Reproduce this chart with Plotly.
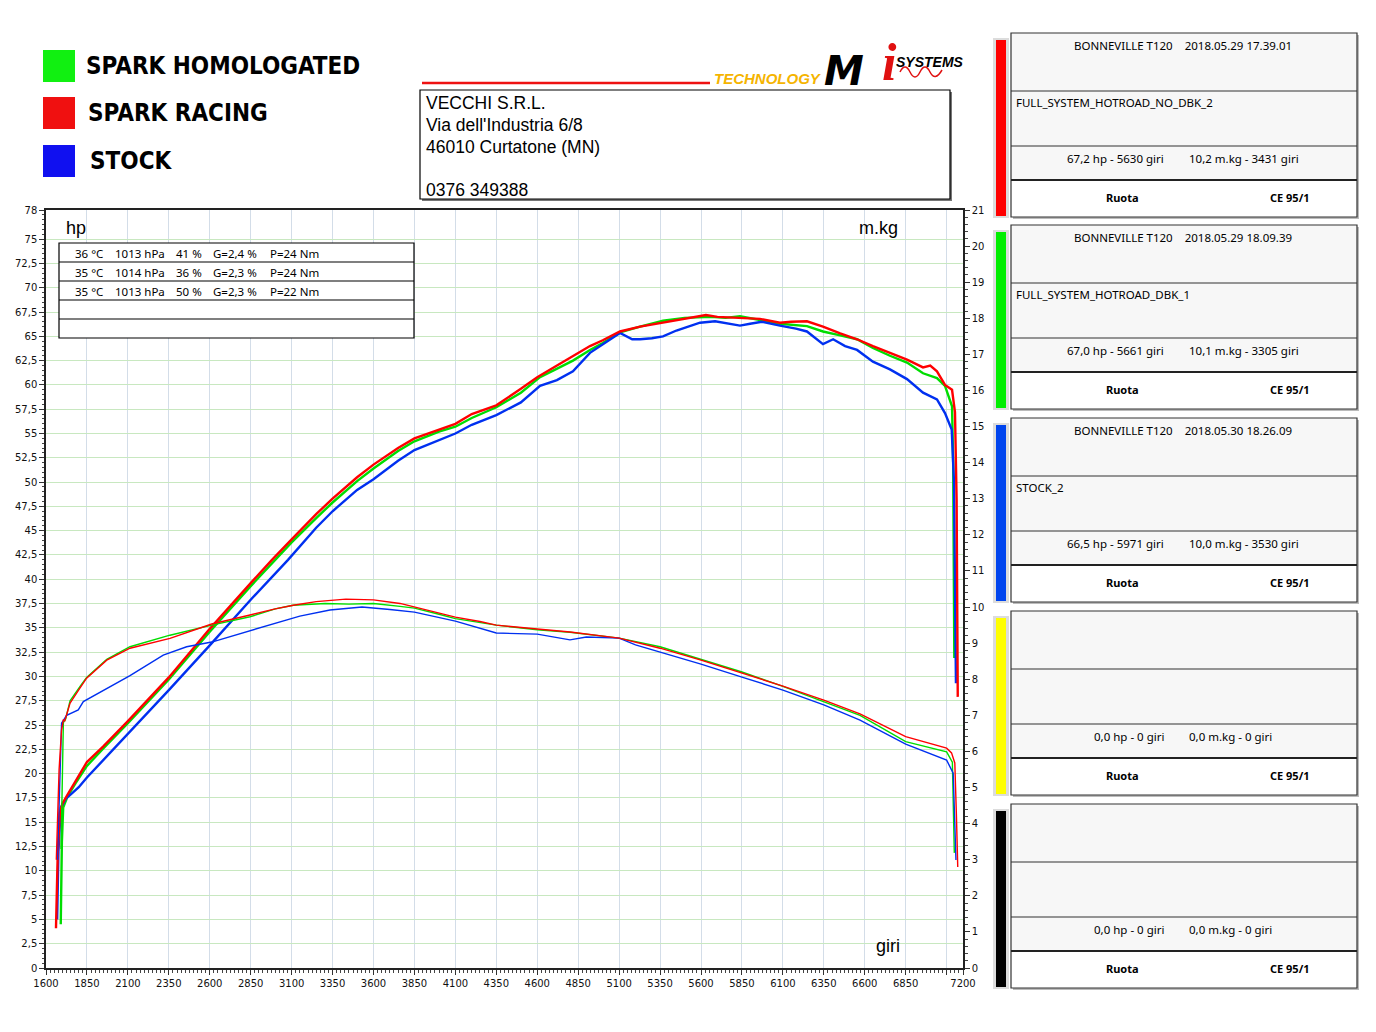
import plotly.graph_objects as go

# ---------------- DATA ----------------
# SPARK RACING (red)
red_hp_rpm = [1661, 1672, 1685, 1700, 1730, 1780, 1850, 1950, 2100, 2350, 2600, 2850, 2980, 3100, 3250,
              3350, 3500, 3600, 3750, 3850, 4000, 4100, 4200, 4350, 4500, 4600, 4700, 4818, 4922, 5000,
              5105, 5228, 5368, 5500, 5594, 5630, 5700, 5838, 5960, 6082, 6150, 6247, 6345, 6450, 6553,
              6650, 6754, 6858, 6956, 7000, 7041, 7090, 7133, 7151, 7161, 7165, 7168]
red_hp = [4.1, 12.0, 16.0, 16.9, 17.8, 19.2, 21.2, 22.8, 25.4, 29.9, 34.9, 39.6, 42.0, 44.1, 46.7,
          48.3, 50.5, 51.8, 53.5, 54.5, 55.4, 56.0, 57.0, 57.9, 59.6, 60.8, 61.8, 63.0, 64.0, 64.6,
          65.5, 66.0, 66.4, 66.8, 67.1, 67.2, 67.0, 66.9, 66.8, 66.4, 66.5, 66.55, 66.0, 65.3, 64.7,
          64.0, 63.3, 62.6, 61.8, 62.0, 61.4, 60.0, 59.5, 57.2, 48.2, 38.0, 27.9]
red_tq_rpm = [1663, 1680, 1695, 1706, 1715, 1747, 1808, 1848, 1971, 2113, 2357, 2612, 2846, 3000, 3110,
              3250, 3431, 3600, 3762, 3850, 4000, 4100, 4250, 4350, 4600, 4800, 5100, 5350, 5600, 5850,
              6100, 6350, 6571, 6850, 7100, 7130, 7150, 7160, 7168]
red_tq = [3.0, 5.5, 6.6, 6.87, 6.85, 7.34, 7.76, 8.03, 8.53, 8.86, 9.13, 9.53, 9.78, 9.95, 10.05,
          10.15, 10.22, 10.2, 10.1, 10.0, 9.85, 9.72, 9.6, 9.5, 9.39, 9.31, 9.14, 8.86, 8.53, 8.17,
          7.81, 7.42, 7.04, 6.41, 6.09, 5.96, 5.68, 4.2, 2.8]

# SPARK HOMOLOGATED (green)
green_hp_rpm = [1690, 1697, 1705, 1730, 1780, 1850, 1950, 2100, 2350, 2600, 2850, 2998, 3100, 3250, 3350,
                3500, 3600, 3750, 3850, 4000, 4100, 4200, 4350, 4500, 4617, 4700, 4818, 4922, 5000, 5105,
                5228, 5368, 5500, 5661, 5750, 5838, 5960, 6082, 6247, 6345, 6450, 6553, 6650, 6754, 6858,
                6956, 7041, 7090, 7133, 7140, 7147]
green_hp = [4.5, 13.0, 16.5, 17.6, 19.0, 20.8, 22.6, 25.2, 29.7, 34.6, 39.3, 42.0, 43.8, 46.3, 47.9,
            50.1, 51.4, 53.2, 54.2, 55.2, 55.7, 56.6, 57.7, 59.2, 60.8, 61.5, 62.5, 63.6, 64.3, 65.4,
            66.0, 66.6, 66.9, 67.0, 66.9, 67.07, 66.7, 66.3, 66.05, 65.5, 65.1, 64.7, 63.8, 63.0, 62.3,
            61.2, 60.7, 59.9, 57.8, 52.0, 31.9]
green_tq_rpm = [1692, 1700, 1706, 1720, 1747, 1808, 1848, 1971, 2113, 2357, 2612, 2846, 3000, 3110, 3305,
                3450, 3600, 3762, 3850, 4000, 4100, 4350, 4600, 4800, 5100, 5350, 5600, 5850, 6100, 6350,
                6571, 6850, 7100, 7135, 7142, 7147]
green_tq = [3.3, 5.5, 6.8, 6.9, 7.4, 7.8, 8.05, 8.55, 8.9, 9.22, 9.5, 9.73, 9.95, 10.05, 10.1,
            10.08, 10.1, 10.02, 9.97, 9.8, 9.68, 9.5, 9.37, 9.3, 9.14, 8.9, 8.55, 8.2, 7.8, 7.38,
            7.0, 6.27, 5.99, 5.7, 4.5, 3.19]

# STOCK (blue)
blue_hp_rpm = [1668, 1676, 1690, 1720, 1760, 1800, 1850, 1950, 2100, 2350, 2600, 2850, 3078, 3250, 3350,
               3500, 3600, 3750, 3850, 4000, 4100, 4200, 4350, 4500, 4617, 4720, 4818, 4922, 5000, 5105,
               5180, 5228, 5300, 5368, 5450, 5594, 5686, 5760, 5838, 5900, 5971, 6082, 6180, 6247, 6345,
               6407, 6480, 6553, 6650, 6754, 6858, 6956, 7041, 7090, 7131, 7145, 7157]
blue_hp = [5.0, 12.0, 16.5, 17.4, 18.0, 18.6, 19.6, 21.4, 24.0, 28.6, 33.2, 37.9, 42.0, 45.3, 47.0,
           49.2, 50.3, 52.2, 53.3, 54.3, 55.0, 55.9, 56.9, 58.2, 59.9, 60.5, 61.4, 63.3, 64.2, 65.35,
           64.7, 64.7, 64.8, 65.0, 65.6, 66.4, 66.55, 66.3, 66.1, 66.3, 66.5, 66.1, 65.8, 65.5, 64.2,
           64.7, 64.0, 63.6, 62.4, 61.6, 60.6, 59.2, 58.5, 57.1, 55.4, 50.0, 29.3]
blue_tq_rpm = [1670, 1685, 1695, 1726, 1797, 1828, 1971, 2113, 2316, 2459, 2612, 2826, 2968, 3150, 3334,
               3530, 3700, 3850, 4100, 4350, 4600, 4800, 4900, 5100, 5200, 5350, 5600, 5850, 6100, 6350,
               6571, 6850, 7100, 7140, 7150, 7157]
blue_tq = [3.0, 5.5, 6.78, 7.0, 7.15, 7.38, 7.75, 8.1, 8.67, 8.9, 9.03, 9.32, 9.5, 9.75, 9.92,
           10.0, 9.93, 9.86, 9.61, 9.28, 9.25, 9.09, 9.17, 9.14, 8.95, 8.75, 8.42, 8.06, 7.7, 7.29,
           6.87, 6.2, 5.76, 5.4, 4.2, 2.99]

# axis ticks
x_tickvals = list(range(1600, 7101, 250)) + [7200]
x_ticktext = [str(v) for v in range(1600, 6851, 250)] + ["", "7200"]
hp_tickvals = [i * 2.5 for i in range(31)] + [78]
hp_ticktext = [("%g" % v).replace(".", ",") for v in hp_tickvals]
tq_tickvals = list(range(0, 22))

legend_names = ["SPARK HOMOLOGATED", "SPARK RACING", "STOCK"]
legend_colors = ["#11f011", "#f01010", "#1010f0"]

conditions = [
    ["36 °C", "1013 hPa", "41 %", "G=2,4 %", "P=24 Nm"],
    ["35 °C", "1014 hPa", "36 %", "G=2,3 %", "P=24 Nm"],
    ["35 °C", "1013 hPa", "50 %", "G=2,3 %", "P=22 Nm"],
]

panel_colors = ["#ff0000", "#00ee00", "#0044ee", "#ffff00", "#000000"]
panel_headers = ["BONNEVILLE T120\u00a0\u00a0\u00a0 2018.05.29 17.39.01",
                 "BONNEVILLE T120\u00a0\u00a0\u00a0 2018.05.29 18.09.39",
                 "BONNEVILLE T120\u00a0\u00a0\u00a0 2018.05.30 18.26.09", "", ""]
panel_names = ["FULL_SYSTEM_HOTROAD_NO_DBK_2", "FULL_SYSTEM_HOTROAD_DBK_1", "STOCK_2", "", ""]
panel_hp = ["67,2 hp - 5630 giri", "67,0 hp - 5661 giri", "66,5 hp - 5971 giri",
            "0,0 hp - 0 giri", "0,0 hp - 0 giri"]
panel_tq = ["10,2 m.kg - 3431 giri", "10,1 m.kg - 3305 giri", "10,0 m.kg - 3530 giri",
            "0,0 m.kg - 0 giri", "0,0 m.kg - 0 giri"]

address = ["VECCHI S.R.L.", "Via dell'Industria 6/8", "46010 Curtatone (MN)", "0376 349388"]

# ---------------- FIGURE ----------------
OFF = 8  # page body margin
W, H = 1376 - OFF, 1032 - OFF


def X(p):
    return (p - OFF) / W


def Y(p):
    return 1 - (p - OFF) / H


RED, GREEN, BLUE = "#ff0000", "#00dd00", "#0030f0"

fig = go.Figure()
series = [
    (green_hp_rpm, green_hp, green_tq_rpm, green_tq, GREEN),
    (blue_hp_rpm, blue_hp, blue_tq_rpm, blue_tq, BLUE),
    (red_hp_rpm, red_hp, red_tq_rpm, red_tq, RED),
]
for hr, hv, tr, tv, col in series:
    fig.add_trace(go.Scatter(x=tr, y=tv, mode="lines", yaxis="y2",
                             line=dict(color=col, width=1.4), showlegend=False, hoverinfo="skip"))
for hr, hv, tr, tv, col in series:
    fig.add_trace(go.Scatter(x=hr, y=hv, mode="lines", yaxis="y",
                             line=dict(color=col, width=2.4), showlegend=False, hoverinfo="skip"))

tickfont = dict(family="DejaVu Sans", size=10, color="#111")

shapes = []
ann = []


def rect(x0, y0, x1, y1, fill=None, line="black", lw=1, layer="above"):
    shapes.append(dict(type="rect", xref="paper", yref="paper", x0=X(x0), x1=X(x1), y0=Y(y1), y1=Y(y0),
                       fillcolor=fill if fill else "rgba(0,0,0,0)",
                       line=dict(color=line, width=lw) if lw else dict(width=0), layer=layer))


def hline(x0, x1, y, color="black", lw=1):
    shapes.append(dict(type="line", xref="paper", yref="paper", x0=X(x0), x1=X(x1), y0=Y(y), y1=Y(y),
                       line=dict(color=color, width=lw), layer="above"))


def text(x, y, s, size=12, family="Noto Sans", color="black", xanchor="left", bold=False, italic=False):
    if bold:
        s = "<b>" + s + "</b>"
    if italic:
        s = "<i>" + s + "</i>"
    ann.append(dict(xref="paper", yref="paper", x=X(x), y=Y(y), text=s, showarrow=False,
                    xanchor=xanchor, yanchor="middle", font=dict(size=size, family=family, color=color)))


# legend block
leg_y = [66, 113, 161]
leg_x = [84, 86, 88]
for i, (nm, c) in enumerate(zip(legend_names, legend_colors)):
    rect(43, leg_y[i] - 16, 75, leg_y[i] + 16, fill=c, lw=0)
    text(leg_x[i], leg_y[i], nm, size=24, family="DejaVu Sans Condensed", bold=True)

# logo
hline(422, 710, 83, color="#ee1111", lw=2.5)
text(712, 78, "TECHNOLOGY", size=15, family="Liberation Sans", color="#f5b400", bold=True, italic=True)
text(822, 71, "M", size=40, family="DejaVu Sans", color="black", bold=True, italic=True)
text(880, 62, "i", size=52, family="Liberation Serif", color="#e01010", bold=True, italic=True)
text(894, 62, "SYSTEMS", size=14, family="Liberation Sans", color="black", bold=True, italic=True)
shapes.append(dict(type="path", xref="paper", yref="paper",
                   path="M %f %f Q %f %f %f %f T %f %f T %f %f T %f %f" % (
                       X(900), Y(72), X(905), Y(62), X(910), Y(72), X(920), Y(72), X(930), Y(72), X(942), Y(70)),
                   line=dict(color="#e01010", width=1.5), layer="above"))

# address box
rect(422, 92, 952, 201, fill="#777", lw=0)
rect(420, 90, 950, 199, fill="white", lw=1.2)
addr_y = [103, 125, 147, 190]
for s, yy in zip(address, addr_y):
    text(424, yy, s, size=17.5, family="Liberation Sans")

# plot labels
text(64, 228, "hp", size=18, family="Liberation Sans")
text(857, 228, "m.kg", size=18, family="Liberation Sans")
text(874, 946, "giri", size=18, family="Liberation Sans")

# conditions table
rect(59, 243, 414, 338, fill="white", lw=1.2)
for yy in [262, 281, 300, 319]:
    hline(59, 414, yy, lw=1.2)
cond_x = [73, 113, 174, 211, 268]
for r, row in enumerate(conditions):
    for cx, s in zip(cond_x, row):
        text(cx, 253 + 19 * r, s, size=11.5, family="Noto Sans")

# right panels
tops = [33, 225, 418, 611, 804]
for i, T in enumerate(tops):
    rect(993, T + 5, 1009, T + 185, fill="#dcdcdc", lw=0)
    rect(996, T + 7, 1006, T + 183, fill=panel_colors[i], lw=0)
    rect(1013, T + 2, 1359, T + 186, fill="#bbbbbb", lw=0)
    rect(1011, T, 1357, T + 147, fill="#f7f7f7", lw=0)
    rect(1011, T + 147, 1357, T + 184, fill="white", lw=0)
    rect(1011, T, 1357, T + 184, lw=1.2, line="#333")
    hline(1011, 1357, T + 58, color="#333", lw=1.2)
    hline(1011, 1357, T + 113, color="#333", lw=1.2)
    hline(1011, 1357, T + 147, color="#222", lw=2.2)
    if panel_headers[i]:
        text(1183, T + 12, panel_headers[i], size=11.5, xanchor="center")
    if panel_names[i]:
        text(1014, T + 69, panel_names[i], size=11.5)
    text(1166, T + 125, panel_hp[i], size=11.5, xanchor="right")
    text(1187, T + 125, panel_tq[i], size=11.5, xanchor="left")
    text(1122, T + 164, "Ruota", size=11, xanchor="center", bold=True)
    text(1290, T + 164, "CE 95/1", size=11, xanchor="center", bold=True)

fig.update_layout(
    width=W, height=H, margin=dict(l=0, r=0, t=0, b=0, autoexpand=False),
    paper_bgcolor="white", plot_bgcolor="white", showlegend=False,
    xaxis=dict(domain=[X(46), X(963)], range=[1600, 7200], tickmode="array", automargin=False,
               tickvals=x_tickvals, ticktext=x_ticktext, tickfont=tickfont,
               showgrid=True, gridcolor="#d3dde8", gridwidth=1, zeroline=False,
               showline=True, linecolor="#222", linewidth=1.5, mirror=True,
               ticks="outside", ticklen=5, tickcolor="#333",
               minor=dict(dtick=25, tick0=1600, ticks="outside", ticklen=3, tickcolor="#444", showgrid=False)),
    yaxis=dict(domain=[Y(968), Y(210)], range=[0, 78], tickmode="array", automargin=False,
               tickvals=hp_tickvals, ticktext=hp_ticktext, tickfont=tickfont,
               showgrid=True, gridcolor="#c8e8c0", gridwidth=1, zeroline=False,
               showline=True, linecolor="#222", linewidth=1.5, mirror=True,
               ticks="outside", ticklen=5, tickcolor="#333",
               minor=dict(dtick=0.5, tick0=0, ticks="outside", ticklen=2, tickcolor="#444", showgrid=False)),
    yaxis2=dict(overlaying="y", side="right", anchor="x", range=[0, 21], tickmode="array", automargin=False,
                tickvals=tq_tickvals, tickfont=tickfont, showgrid=False, zeroline=False,
                showline=True, linecolor="#222", linewidth=1.5,
                ticks="outside", ticklen=5, tickcolor="#333",
                minor=dict(dtick=0.2, tick0=0, ticks="outside", ticklen=3, tickcolor="#444", showgrid=False)),
    shapes=shapes, annotations=ann,
)

fig.write_html("out.html")
